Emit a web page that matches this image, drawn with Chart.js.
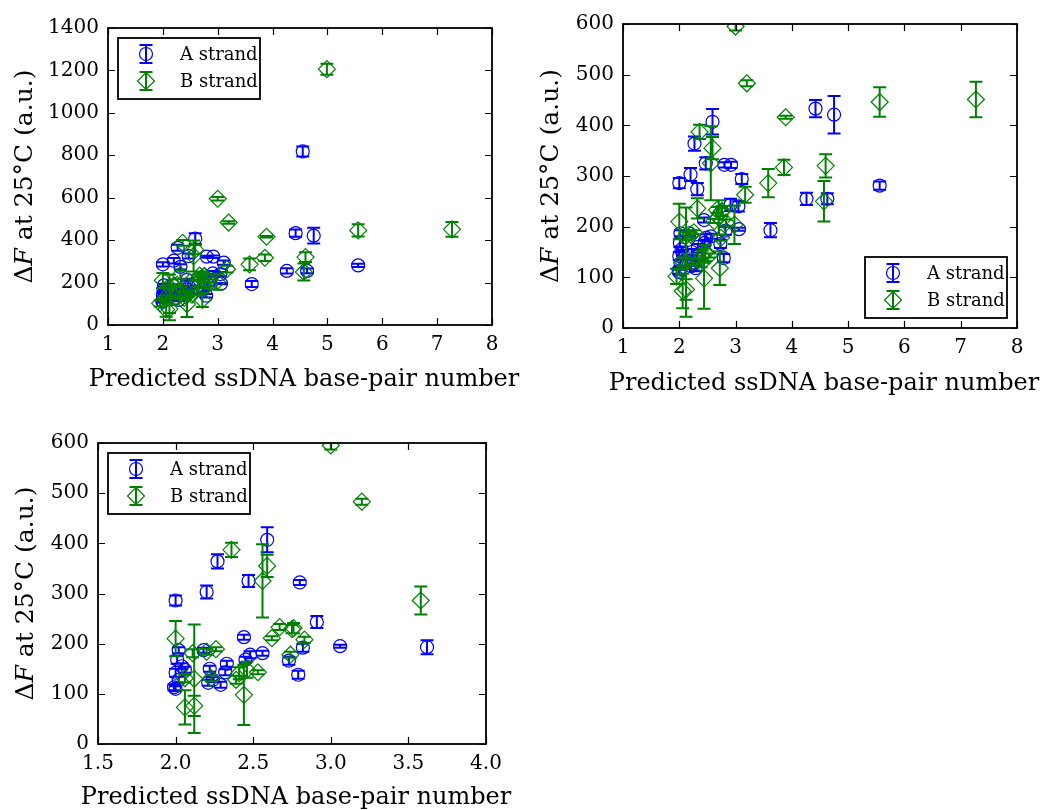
<!DOCTYPE html>
<html>
<head>
<meta charset="utf-8">
<script src="https://cdn.jsdelivr.net/npm/chart.js@4.4.0/dist/chart.umd.min.js"></script>
<style>
  html, body { margin: 0; padding: 0; background: #fff; overflow: hidden; }
  canvas { position: absolute; }
</style>
</head>
<body>
<canvas id="wide" width="520" height="400" style="left:0;top:0"></canvas>
<canvas id="mid" width="515" height="400" style="left:530px;top:0"></canvas>
<canvas id="zoom" width="520" height="390" style="left:0;top:420px"></canvas>
<script>
// A strand, points that appear on every panel (x, dF, error)
const aX   = [2.00, 2.20, 2.27, 2.47, 2.59, 2.80, 2.91, 3.06, 3.62, 2.44, 2.56, 2.48, 2.73, 2.79, 2.82, 2.45, 2.33, 2.32, 2.22, 2.21, 2.29, 2.18, 2.02, 2.01, 2.00, 1.99, 2.00, 2.04, 2.06, 2.02, 2.24];
const aY   = [286, 303, 364, 325, 407, 322, 243, 195, 193, 213, 181, 178, 166, 138, 192, 168, 160, 143, 150, 122, 118, 187, 187, 168, 142, 113, 110, 155, 148, 128, 128];
const aErr = [10, 13, 14, 12, 25, 5, 12, 3, 14, 5, 5, 7, 8, 8, 8, 6, 6, 6, 6, 6, 6, 5, 6, 8, 8, 6, 5, 6, 6, 6, 5];
// A strand, extra points only on the full-range panels
const aXMore   = [4.42, 4.75, 5.56, 4.26, 4.63, 4.55, 2.32, 2.92, 3.11, 3.05];
const aYMore   = [433, 421, 281, 255, 255, 818, 274, 322, 294, 240];
const aErrMore = [17, 37, 8, 12, 11, 24, 12, 6, 10, 10];

// B strand
const bX   = [3.00, 3.20, 3.58, 2.36, 2.59, 2.56, 2.00, 2.12, 2.06, 2.12, 2.44, 2.62, 2.67, 2.76, 2.74, 2.83, 2.53, 2.26, 2.20, 2.11, 2.06, 2.23, 2.41, 2.46, 2.39, 2.75];
const bY   = [595, 483, 286, 387, 355, 325, 210, 130, 73, 76, 98, 211, 233, 231, 178, 208, 143, 189, 184, 181, 131, 131, 141, 148, 128, 229];
const bErr = [8, 6, 28, 14, 22, 73, 35, 108, 34, 20, 60, 4, 6, 10, 6, 6, 4, 4, 6, 8, 8, 6, 12, 16, 8, 8];
const bXMore   = [5.56, 7.27, 4.60, 4.57, 3.89, 3.86, 4.99, 3.17, 2.72, 1.95, 2.32, 2.70, 2.98];
const bYMore   = [446, 451, 320, 250, 416, 317, 1206, 263, 118, 102, 236, 218, 204];
const bErrMore = [29, 35, 23, 40, 3, 15, 26, 16, 33, 15, 20, 34, 38];

// axis ticks
const xTicksWide = [1, 2, 3, 4, 5, 6, 7, 8];
const yTicksWide = [0, 200, 400, 600, 800, 1000, 1200, 1400];
const yTicks600  = [0, 100, 200, 300, 400, 500, 600];
const xTicksZoom = [1.5, 2.0, 2.5, 3.0, 3.5, 4.0];
const xLabelsZoom = ['1.5', '2.0', '2.5', '3.0', '3.5', '4.0'];

const BLUE = '#0000ff';
const GREEN = '#008000';
const SERIF = "'DejaVu Serif', 'Liberation Serif', serif";
Chart.defaults.font.family = SERIF;
Chart.defaults.color = '#000';

function points(xs, ys, errs) {
  return xs.map((x, i) => ({ x: x, y: ys[i], err: errs[i] }));
}

// vertical error bars with caps, drawn right after each dataset's markers
const errorBars = {
  id: 'errorBars',
  afterDatasetDraw(chart, args) {
    const ds = chart.data.datasets[args.index];
    const { ctx, chartArea: a, scales: { x, y } } = chart;
    ctx.save();
    ctx.beginPath();
    ctx.rect(a.left, a.top, a.width, a.height);
    ctx.clip();
    ctx.strokeStyle = ds.pointBorderColor;
    ctx.lineWidth = 2;
    ctx.beginPath();
    ds.data.forEach(p => {
      const px = x.getPixelForValue(p.x);
      const top = y.getPixelForValue(p.y + p.err);
      const bot = y.getPixelForValue(p.y - p.err);
      ctx.moveTo(px, top); ctx.lineTo(px, bot);
      ctx.moveTo(px - 6.5, top); ctx.lineTo(px + 6.5, top);
      ctx.moveTo(px - 6.5, bot); ctx.lineTo(px + 6.5, bot);
    });
    ctx.stroke();
    ctx.restore();
  }
};

// black box with inward ticks on all four sides
const frame = {
  id: 'frame',
  afterDraw(chart) {
    const { ctx, chartArea: a, scales: { x, y } } = chart;
    ctx.save();
    ctx.strokeStyle = '#000';
    ctx.lineWidth = 1.2;
    ctx.beginPath();
    x.ticks.forEach(t => {
      const px = Math.round(x.getPixelForValue(t.value)) + 0.5;
      ctx.moveTo(px, a.bottom); ctx.lineTo(px, a.bottom - 7);
      ctx.moveTo(px, a.top); ctx.lineTo(px, a.top + 7);
    });
    y.ticks.forEach(t => {
      const py = Math.round(y.getPixelForValue(t.value)) + 0.5;
      ctx.moveTo(a.left, py); ctx.lineTo(a.left + 7, py);
      ctx.moveTo(a.right, py); ctx.lineTo(a.right - 7, py);
    });
    ctx.stroke();
    ctx.lineWidth = 1.8;
    ctx.strokeRect(a.left, a.top, a.width, a.height);
    ctx.restore();
  }
};

// axis titles: x label below the axis, rotated y label with an italic F
const axisLabels = {
  id: 'axisLabels',
  afterDraw(chart, args, opts) {
    const { ctx, chartArea: a } = chart;
    ctx.save();
    ctx.fillStyle = '#000';
    ctx.textBaseline = 'middle';
    ctx.textAlign = 'center';
    ctx.font = '24px ' + SERIF;
    ctx.fillText('Predicted ssDNA base-pair number', (a.left + a.right) / 2 + 4, opts.xly);

    const parts = [['Δ', ''], ['F', 'italic '], [' at 25°C (a.u.)', '']];
    ctx.textAlign = 'left';
    ctx.translate(opts.ylx, (a.top + a.bottom) / 2);
    ctx.rotate(-Math.PI / 2);
    let total = 0;
    parts.forEach(p => { ctx.font = p[1] + '25px ' + SERIF; total += ctx.measureText(p[0]).width; });
    let pos = -total / 2;
    parts.forEach(p => {
      ctx.font = p[1] + '25px ' + SERIF;
      ctx.fillText(p[0], pos, 0);
      pos += ctx.measureText(p[0]).width;
    });
    ctx.restore();
  }
};

// framed legend with marker + error bar symbol
const strandLegend = {
  id: 'strandLegend',
  afterDraw(chart, args, opts) {
    const { ctx, chartArea: a } = chart;
    const w = 142, h = 61;
    const left = opts.corner === 'br' ? a.right - 10 - w : a.left + 10;
    const top = opts.corner === 'br' ? a.bottom - 10 - h : a.top + 10;
    ctx.save();
    ctx.fillStyle = '#fff';
    ctx.fillRect(left, top, w, h);
    ctx.strokeStyle = '#000';
    ctx.lineWidth = 1.8;
    ctx.strokeRect(left, top, w, h);
    const rows = [chart.data.datasets.find(d => d.label === 'A strand'),
                  chart.data.datasets.find(d => d.label === 'B strand')];
    rows.forEach((ds, i) => {
      const cx = left + 28, cy = top + 16 + i * 27;
      const r = ds.pointRadius;
      ctx.strokeStyle = ds.pointBorderColor;
      ctx.lineWidth = ds.pointBorderWidth;
      ctx.beginPath();
      if (ds.pointStyle === 'circle') {
        ctx.arc(cx, cy, r, 0, Math.PI * 2);
      } else {
        ctx.moveTo(cx, cy - r); ctx.lineTo(cx + r, cy);
        ctx.lineTo(cx, cy + r); ctx.lineTo(cx - r, cy); ctx.closePath();
      }
      ctx.stroke();
      ctx.lineWidth = 2;
      ctx.beginPath();
      ctx.moveTo(cx, cy - 9); ctx.lineTo(cx, cy + 9);
      ctx.moveTo(cx - 6.5, cy - 9); ctx.lineTo(cx + 6.5, cy - 9);
      ctx.moveTo(cx - 6.5, cy + 9); ctx.lineTo(cx + 6.5, cy + 9);
      ctx.stroke();
      ctx.fillStyle = '#000';
      ctx.font = '18px ' + SERIF;
      ctx.textBaseline = 'middle';
      ctx.fillText(ds.label, left + 62, cy + 1);
    });
    ctx.restore();
  }
};

function strandSets(full) {
  const aPts = full ? points(aX.concat(aXMore), aY.concat(aYMore), aErr.concat(aErrMore)) : points(aX, aY, aErr);
  const bPts = full ? points(bX.concat(bXMore), bY.concat(bYMore), bErr.concat(bErrMore)) : points(bX, bY, bErr);
  return [{
    label: 'A strand',
    data: aPts,
    pointStyle: 'circle',
    pointRadius: 6.5,
    pointHoverRadius: 6.5,
    pointBorderColor: BLUE,
    pointBackgroundColor: 'rgba(0,0,0,0)',
    pointBorderWidth: 1.2,
    order: 1,
    clip: 0
  }, {
    label: 'B strand',
    data: bPts,
    pointStyle: 'rectRot',
    pointRadius: 8.5,
    pointHoverRadius: 8.5,
    pointBorderColor: GREEN,
    pointBackgroundColor: 'rgba(0,0,0,0)',
    pointBorderWidth: 1.2,
    order: 0,
    clip: 0
  }];
}

function makePanel(id, g) {
  return new Chart(document.getElementById(id), {
    type: 'scatter',
    data: { datasets: strandSets(g.full) },
    options: {
      responsive: false,
      animation: false,
      events: [],
      layout: { padding: { left: 0, top: g.top, right: g.right, bottom: 0 } },
      plugins: {
        legend: { display: false },
        tooltip: { enabled: false },
        strandLegend: { corner: g.corner },
        axisLabels: { ylx: g.ylx, xly: g.xly }
      },
      scales: {
        x: {
          type: 'linear',
          min: g.xt[0],
          max: g.xt[g.xt.length - 1],
          afterBuildTicks: s => { s.ticks = g.xt.map(v => ({ value: v })); },
          ticks: {
            font: { size: 20 }, color: '#000', padding: 8,
            maxRotation: 0, autoSkip: false,
            callback: g.xFmt
          },
          grid: { display: false, drawTicks: false },
          border: { display: false },
          afterFit: s => { s.height = g.xh; s.paddingLeft = 0; s.paddingRight = 0; }
        },
        y: {
          type: 'linear',
          min: g.yt[0],
          max: g.yt[g.yt.length - 1],
          afterBuildTicks: s => { s.ticks = g.yt.map(v => ({ value: v })); },
          ticks: { font: { size: 20 }, color: '#000', padding: 9, autoSkip: false, callback: v => String(v) },
          grid: { display: false, drawTicks: false },
          border: { display: false },
          afterFit: s => { s.width = g.yw; s.paddingTop = 0; s.paddingBottom = 0; }
        }
      }
    },
    plugins: [errorBars, frame, axisLabels, strandLegend]
  });
}

makePanel('wide', {
  full: true, xt: xTicksWide, yt: yTicksWide, xFmt: v => String(v),
  top: 28, right: 28, xh: 75, yw: 108, xly: 380, ylx: 25, corner: 'tl'
});
makePanel('mid', {
  full: true, xt: xTicksWide, yt: yTicks600, xFmt: v => String(v),
  top: 24, right: 28, xh: 72, yw: 93, xly: 384, ylx: 21, corner: 'br'
});
makePanel('zoom', {
  full: false, xt: xTicksZoom, yt: yTicks600, xFmt: (v, i) => xLabelsZoom[i],
  top: 23, right: 34, xh: 66, yw: 98, xly: 378, ylx: 26, corner: 'tl'
});
</script>
</body>
</html>
